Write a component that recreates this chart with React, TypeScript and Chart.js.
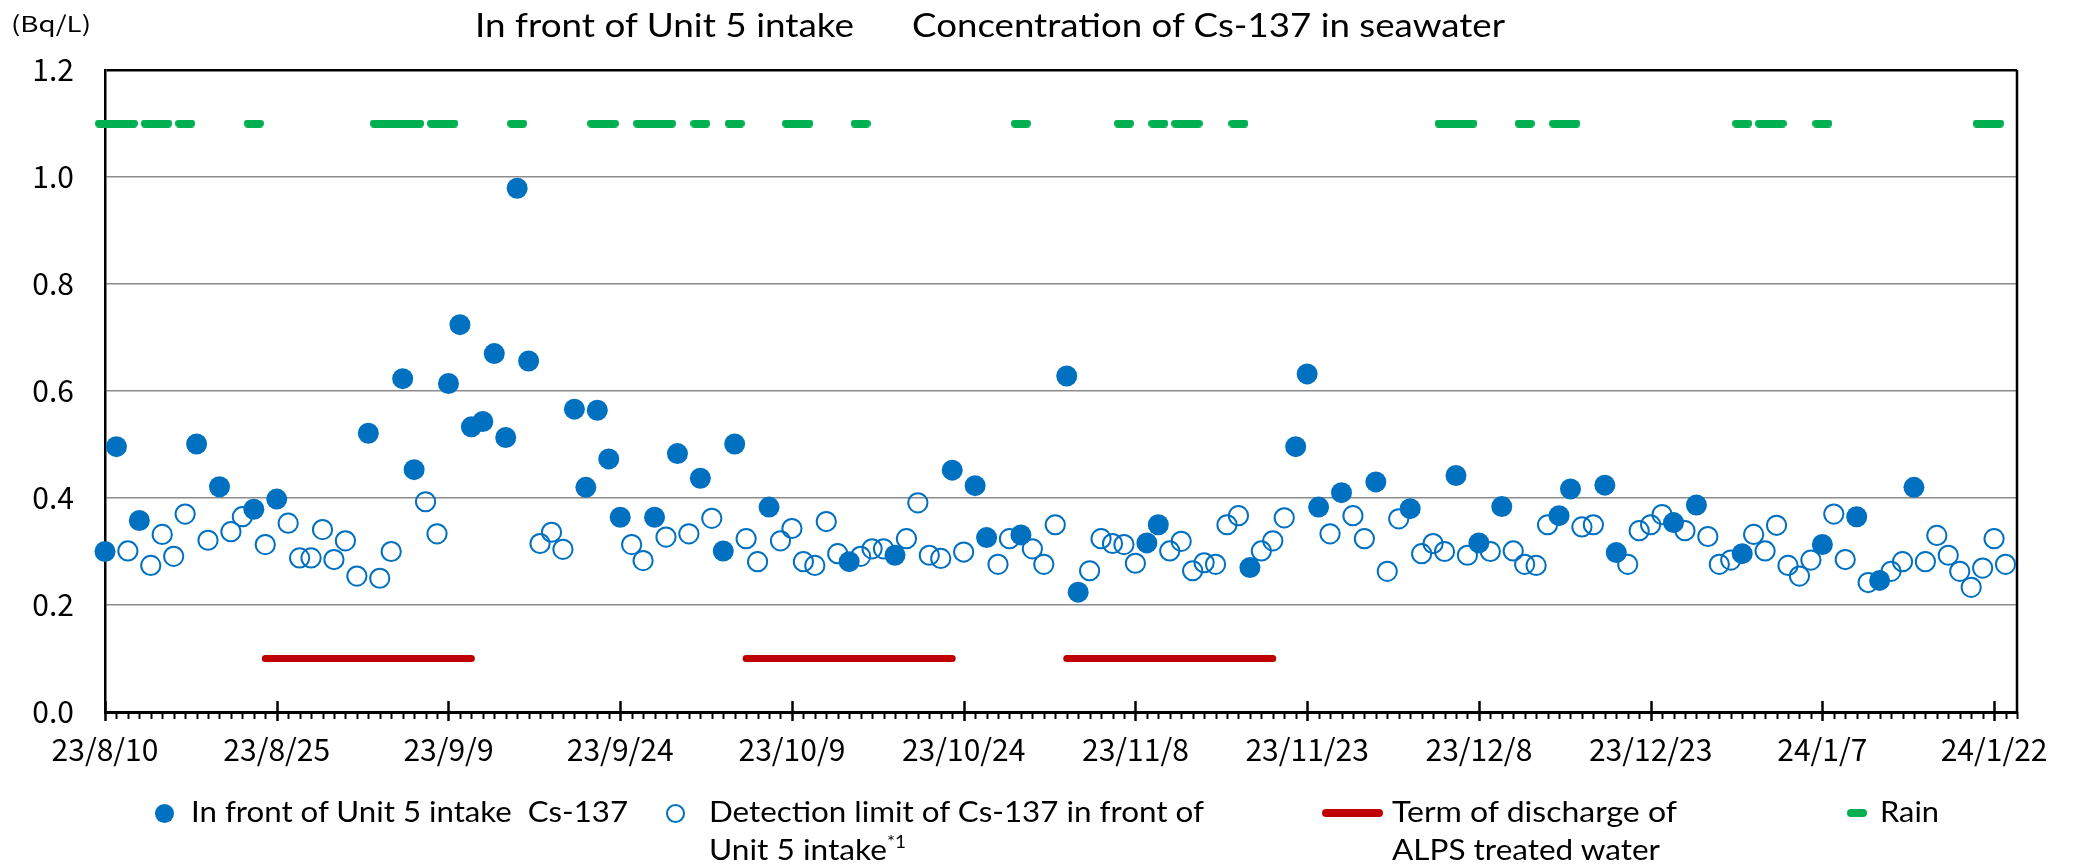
import React, { useEffect, useLayoutEffect, useRef } from "react";
import { Chart, registerables } from "chart.js";

Chart.register(...registerables);

const WIDTH = 2083;
const HEIGHT = 867;

const BLUE = "#0070C0";
const RED = "#C00000";
const GREEN = "#00B050";

const TITLE_LEFT = "In front of Unit 5 intake";
const TITLE_RIGHT = "Concentration of Cs-137 in seawater";
const UNIT = "(Bq/L)";

// x value = days since 23/8/10
const X_MAX = 167;
const tickDays = [0, 15, 30, 45, 60, 75, 90, 105, 120, 135, 150, 165];
const tickLabels = [
  "23/8/10", "23/8/25", "23/9/9", "23/9/24", "23/10/9", "23/10/24",
  "23/11/8", "23/11/23", "23/12/8", "23/12/23", "24/1/7", "24/1/22",
];
const yTickStep = 0.2;
const yMax = 1.2;

// Cs-137 detected values (Bq/L), one entry per day from 23/8/10
const detected: (number | null)[] = [
  0.300, 0.496, null, 0.358, null, null, null, null, 0.501, null,
  0.421, null, null, 0.379, null, 0.398, null, null, null, null,
  null, null, null, 0.521, null, null, 0.623, 0.453, null, null,
  0.614, 0.724, 0.533, 0.543, 0.670, 0.513, 0.979, 0.656, null, null,
  null, 0.566, 0.420, 0.564, 0.473, 0.364, null, null, 0.364, null,
  0.483, null, 0.437, null, 0.301, 0.501, null, null, 0.383, null,
  null, null, null, null, null, 0.281, null, null, null, 0.293,
  null, null, null, null, 0.452, null, 0.423, 0.326, null, null,
  0.331, null, null, null, 0.628, 0.224, null, null, null, null,
  null, 0.316, 0.350, null, null, null, null, null, null, null,
  0.270, null, null, null, 0.496, 0.632, 0.383, null, 0.410, null,
  null, 0.430, null, null, 0.380, null, null, null, 0.442, null,
  0.316, null, 0.384, null, null, null, null, 0.367, 0.417, null,
  null, 0.424, 0.298, null, null, null, null, 0.354, null, 0.387,
  null, null, null, 0.296, null, null, null, null, null, null,
  0.313, null, null, 0.365, null, 0.246, null, null, 0.420, null,
  null, null, null, null, null, null, null,
];

// Detection limit (not detected days), one entry per day from 23/8/10
const detectionLimit: (number | null)[] = [
  null, null, 0.301, null, 0.274, 0.332, 0.291, 0.370, null, 0.321,
  null, 0.337, 0.365, null, 0.313, null, 0.353, 0.288, 0.288, 0.341,
  0.285, 0.320, 0.254, null, 0.250, 0.300, null, null, 0.393, 0.333,
  null, null, null, null, null, null, null, null, 0.315, 0.336,
  0.304, null, null, null, null, null, 0.313, 0.283, null, 0.327,
  null, 0.333, null, 0.362, null, null, 0.324, 0.281, null, 0.320,
  0.343, 0.281, 0.274, 0.356, 0.296, null, 0.291, 0.305, 0.305, null,
  0.324, 0.391, 0.293, 0.287, null, 0.299, null, null, 0.276, 0.324,
  null, 0.305, 0.276, 0.350, null, null, 0.264, 0.324, 0.315, 0.313,
  0.278, null, null, 0.301, 0.319, 0.264, 0.279, 0.276, 0.350, 0.367,
  null, 0.301, 0.320, 0.363, null, null, null, 0.333, null, 0.367,
  0.324, null, 0.263, 0.361, null, 0.296, 0.315, 0.300, null, 0.293,
  null, 0.300, null, 0.301, 0.276, 0.274, 0.350, null, null, 0.346,
  0.350, null, null, 0.276, 0.339, 0.350, 0.369, null, 0.339, null,
  0.328, 0.276, 0.284, null, 0.332, 0.301, 0.349, 0.274, 0.254, 0.284,
  null, 0.370, 0.285, null, 0.242, null, 0.263, 0.281, null, 0.281,
  0.330, 0.293, 0.263, 0.233, 0.269, 0.324, 0.276,
];

// Rain days (days since 23/8/10), drawn at y = 1.1
const rainDays = [
  0, 1, 2, 4, 5, 7, 13, 24, 25, 26, 27, 29, 30, 36, 43, 44, 47, 48, 49, 52,
  55, 60, 61, 66, 80, 89, 92, 94, 95, 99, 117, 118, 119, 124, 127, 128, 143,
  145, 146, 150, 164, 165,
];
const rainLevel = 1.1;

// ALPS treated water discharge terms [start day, end day]
const alpsStarts = [14, 56, 84];
const alpsEnds = [32, 74, 102];
const alpsLevel = 0.1;

const LEGEND_1 = "In front of Unit 5 intake  Cs-137";
const LEGEND_2A = "Detection limit of Cs-137 in front of";
const LEGEND_2B = "Unit 5 intake";
const LEGEND_2SUP = "*1";
const LEGEND_3A = "Term of discharge of";
const LEGEND_3B = "ALPS treated water";
const LEGEND_4 = "Rain";

const LATO = "Lato, 'Open Sans', sans-serif";
const CJK = "'Noto Sans CJK JP', 'Noto Sans', sans-serif";

type FitProps = {
  left: number;
  baseline: number;
  width?: number;
  size: number;
  family: string;
  asc: number;
  children: React.ReactNode;
};

function FitText({ left, baseline, width, size, family, asc, children }: FitProps) {
  const ref = useRef<HTMLDivElement>(null);
  useLayoutEffect(() => {
    const el = ref.current;
    if (!el || !width) return;
    el.style.transform = "none";
    const w = el.getBoundingClientRect().width;
    if (w > 0) el.style.transform = `scaleX(${width / w})`;
  }, [width]);
  return (
    <div
      ref={ref}
      style={{
        position: "absolute",
        left,
        top: baseline - asc * size,
        fontFamily: family,
        fontSize: size,
        lineHeight: `${size}px`,
        whiteSpace: "pre",
        transformOrigin: "0 0",
        color: "#000",
      }}
    >
      {children}
    </div>
  );
}

function makeRainDash(): HTMLCanvasElement {
  const c = document.createElement("canvas");
  c.width = 20;
  c.height = 8;
  const g = c.getContext("2d")!;
  g.fillStyle = GREEN;
  g.beginPath();
  g.arc(4, 4, 4, Math.PI / 2, (Math.PI * 3) / 2);
  g.lineTo(16, 0);
  g.arc(16, 4, 4, -Math.PI / 2, Math.PI / 2);
  g.closePath();
  g.fill();
  return c;
}

const framePlugin = {
  id: "frameTicks",
  beforeDatasetsDraw(chart: any) {
    const { ctx, chartArea: a, scales } = chart;
    const xs = scales.x;
    ctx.save();
    ctx.strokeStyle = "#000";
    ctx.lineWidth = 2.5;
    ctx.beginPath();
    ctx.moveTo(a.right, a.top);
    ctx.lineTo(a.right, a.bottom);
    ctx.stroke();
    for (let d = 0; d <= X_MAX; d++) {
      const px = Math.round(xs.getPixelForValue(d)) + 0.5;
      const major = tickDays.includes(d);
      ctx.lineWidth = major ? 2.5 : 2;
      ctx.beginPath();
      ctx.moveTo(px, major ? a.bottom - 11 : a.bottom);
      ctx.lineTo(px, a.bottom + (major ? 9 : 7));
      ctx.stroke();
    }
    ctx.restore();
  },
};

export default function App() {
  const canvasRef = useRef<HTMLCanvasElement>(null);

  useEffect(() => {
    const canvas = canvasRef.current;
    if (!canvas) return;

    const detectedPts = detected
      .map((v, i) => (v == null ? null : { x: i, y: v }))
      .filter((p) => p !== null);
    const limitPts = detectionLimit
      .map((v, i) => (v == null ? null : { x: i, y: v }))
      .filter((p) => p !== null);
    const rainPts = rainDays.map((d) => ({ x: d, y: rainLevel }));
    const alpsPts: { x: number; y: number | null }[] = [];
    alpsStarts.forEach((s, i) => {
      alpsPts.push({ x: s, y: alpsLevel });
      alpsPts.push({ x: alpsEnds[i], y: alpsLevel });
      alpsPts.push({ x: alpsEnds[i] + 0.5, y: null });
    });

    const chart = new Chart(canvas, {
      type: "scatter",
      data: {
        datasets: [
          {
            label: LEGEND_1,
            data: detectedPts as any,
            pointRadius: 10.5,
            pointBackgroundColor: BLUE,
            pointBorderWidth: 0,
            pointBorderColor: BLUE,
            clip: false,
            order: 1,
          } as any,
          {
            label: LEGEND_2A,
            data: limitPts as any,
            pointRadius: 9.6,
            pointBackgroundColor: "rgba(0,0,0,0)",
            pointBorderWidth: 2,
            pointBorderColor: BLUE,
            clip: false,
            order: 2,
          } as any,
          {
            type: "line",
            label: LEGEND_3A,
            data: alpsPts as any,
            borderColor: RED,
            borderWidth: 7,
            borderCapStyle: "round",
            pointRadius: 0,
            spanGaps: false,
            showLine: true,
            clip: false,
            order: 3,
          } as any,
          {
            label: LEGEND_4,
            data: rainPts as any,
            pointStyle: makeRainDash(),
            pointRadius: 10,
            clip: false,
            order: 4,
          } as any,
        ],
      },
      options: {
        responsive: false,
        maintainAspectRatio: false,
        animation: false,
        events: [],
        layout: { padding: { left: 0, right: 66, top: 70, bottom: 0 } },
        plugins: {
          legend: { display: false },
          title: { display: false },
          tooltip: { enabled: false },
        },
        scales: {
          x: {
            type: "linear",
            min: 0,
            max: X_MAX,
            afterBuildTicks: (s: any) => {
              s.ticks = tickDays.map((v) => ({ value: v }));
            },
            afterFit: (s: any) => {
              s.height = HEIGHT - 712;
            },
            ticks: {
              autoSkip: false,
              maxRotation: 0,
              minRotation: 0,
              padding: 20,
              color: "#000",
              font: { family: CJK, size: 30 },
              callback: (v: any) => {
                const i = tickDays.indexOf(Number(v));
                return i >= 0 ? tickLabels[i] : "";
              },
            },
            grid: { drawOnChartArea: false, drawTicks: false },
            border: { display: true, color: "#000", width: 3 },
          },
          y: {
            min: 0,
            max: yMax,
            afterFit: (s: any) => {
              s.width = 105;
            },
            ticks: {
              stepSize: yTickStep,
              padding: 31,
              color: "#000",
              font: { family: CJK, size: 30 },
              callback: (v: any) => Number(v).toFixed(1),
            },
            grid: {
              drawTicks: false,
              color: (c: any) =>
                c.tick && Math.abs(c.tick.value - yMax) < 1e-6 ? "#000" : "#8c8c8c",
              lineWidth: (c: any) =>
                c.tick && Math.abs(c.tick.value - yMax) < 1e-6 ? 2.5 : 1.5,
            },
            border: { display: true, color: "#000", width: 2.5 },
          },
        },
      } as any,
      plugins: [framePlugin],
    });

    return () => chart.destroy();
  }, []);

  return (
    <div
      style={{
        position: "absolute",
        left: 0,
        top: 0,
        width: WIDTH,
        height: HEIGHT,
        background: "#fff",
        overflow: "hidden",
      }}
    >
      <canvas
        ref={canvasRef}
        width={WIDTH}
        height={HEIGHT}
        style={{ display: "block", width: WIDTH, height: HEIGHT }}
      />

      <FitText left={11} baseline={32} width={80} size={22} family={CJK} asc={0.936}>
        {UNIT}
      </FitText>

      <FitText left={475} baseline={37} width={379} size={32} family={LATO} asc={0.887}>
        {TITLE_LEFT}
      </FitText>
      <FitText left={912} baseline={37} width={593} size={32} family={LATO} asc={0.887}>
        {TITLE_RIGHT}
      </FitText>

      {/* Legend markers */}
      <div
        style={{
          position: "absolute",
          left: 164 - 9.5,
          top: 813 - 9.5,
          width: 19,
          height: 19,
          borderRadius: "50%",
          background: BLUE,
        }}
      />
      <div
        style={{
          position: "absolute",
          left: 675 - 9.5,
          top: 813 - 9.5,
          width: 19,
          height: 19,
          borderRadius: "50%",
          border: `2px solid ${BLUE}`,
          boxSizing: "border-box",
        }}
      />
      <div
        style={{
          position: "absolute",
          left: 1322,
          top: 813 - 4,
          width: 61,
          height: 8,
          borderRadius: 4,
          background: RED,
        }}
      />
      <div
        style={{
          position: "absolute",
          left: 1847,
          top: 813 - 4,
          width: 20,
          height: 8,
          borderRadius: 4,
          background: GREEN,
        }}
      />

      <FitText left={191} baseline={822} width={437} size={28} family={LATO} asc={0.887}>
        {LEGEND_1}
      </FitText>
      <FitText left={709} baseline={822} width={495} size={28} family={LATO} asc={0.887}>
        {LEGEND_2A}
      </FitText>
      <FitText left={709} baseline={860} width={197} size={28} family={LATO} asc={0.887}>
        {LEGEND_2B}
        <span style={{ fontSize: "0.6em", position: "relative", top: "-0.75em" }}>
          {LEGEND_2SUP}
        </span>
      </FitText>
      <FitText left={1392} baseline={822} width={285} size={28} family={LATO} asc={0.887}>
        {LEGEND_3A}
      </FitText>
      <FitText left={1392} baseline={860} width={268} size={28} family={LATO} asc={0.887}>
        {LEGEND_3B}
      </FitText>
      <FitText left={1880} baseline={822} width={59} size={28} family={LATO} asc={0.887}>
        {LEGEND_4}
      </FitText>
    </div>
  );
}
